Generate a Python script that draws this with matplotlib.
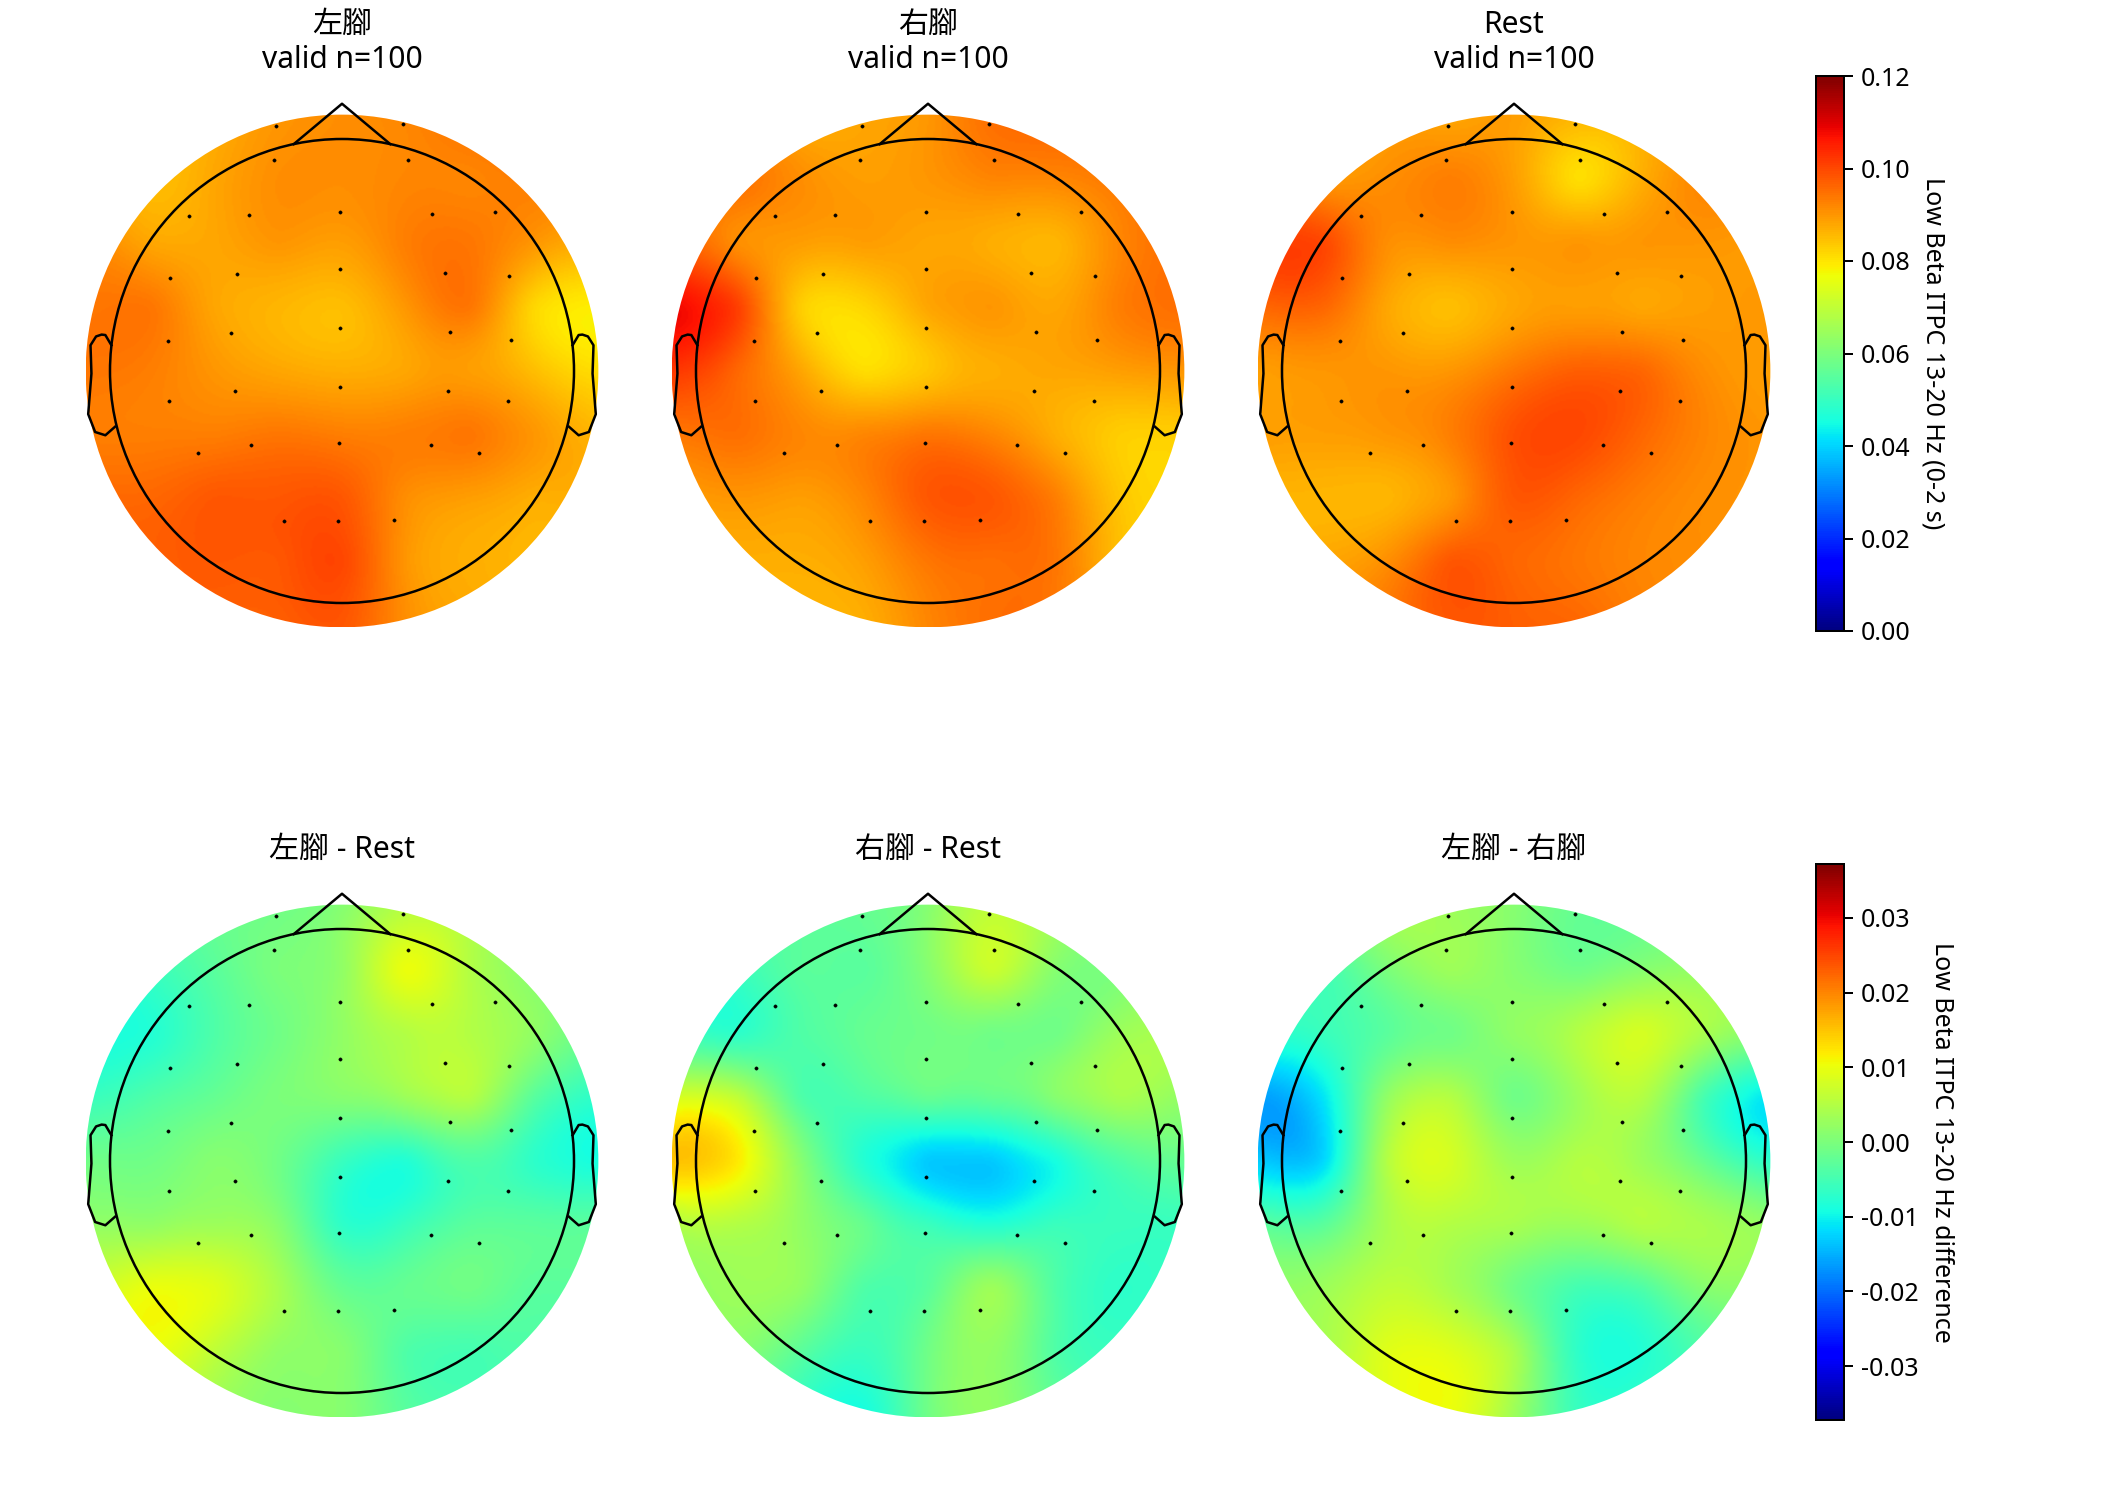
import numpy as np
import matplotlib
matplotlib.use("Agg")
import matplotlib.pyplot as plt
from matplotlib.patches import Circle
from matplotlib.cm import ScalarMappable
from matplotlib.colors import Normalize

plt.rcParams['font.family'] = ['Noto Sans', 'Noto Sans CJK TC', 'DejaVu Sans']
plt.rcParams['axes.unicode_minus'] = False

# Electrode locations on the unit head circle
SENSOR_X = [-.284, .264, -.294, .284, -.660, -.401, -.008, .390, .658,
            -.741, -.454, -.008, .446, .719, -.752, -.478, -.008, .466, .727,
            -.746, -.462, -.010, .458, .717, -.621, -.393, -.011, .383, .591,
            -.252, -.016, .222]
SENSOR_Y = [1.056, 1.065, .908, .911, .669, .671, .684, .678, .684,
            .401, .419, .440, .422, .409, .130, .165, .186, .168, .133,
            -.129, -.085, -.071, -.085, -.129, -.352, -.317, -.310, -.317, -.352,
            -.645, -.646, -.642]

# Scalp field sampled on a regular lattice, rows from front to back
ROW_Y = [1.1, .825, .55, .275, 0, -.275, -.55, -.825, -1.1]
ROW_X = [[-.55, -.275, 0, .275, .55],
         [-.825, -.55, -.275, 0, .275, .55, .825],
         [-1.1, -.825, -.55, -.275, 0, .275, .55, .825, 1.1],
         [-1.1, -.825, -.55, -.275, 0, .275, .55, .825, 1.1],
         [-1.1, -.825, -.55, -.275, 0, .275, .55, .825, 1.1],
         [-1.1, -.825, -.55, -.275, 0, .275, .55, .825, 1.1],
         [-1.1, -.825, -.55, -.275, 0, .275, .55, .825, 1.1],
         [-.825, -.55, -.275, 0, .275, .55, .825],
         [-.55, -.275, 0, .275, .55]]

LEFT_FOOT = [[.087, .090, .091, .092, .095],
             [.085, .088, .091, .091, .092, .092, .093],
             [.092, .088, .088, .090, .089, .093, .094, .090, .087],
             [.094, .094, .088, .086, .085, .090, .094, .082, .079],
             [.094, .093, .090, .088, .087, .088, .089, .085, .081],
             [.093, .093, .093, .094, .093, .093, .094, .090, .086],
             [.096, .096, .098, .098, .098, .091, .089, .087, .087],
             [.097, .098, .098, .100, .090, .087, .086],
             [.097, .097, .098, .091, .088]]
RIGHT_FOOT = [[.087, .088, .090, .095, .096],
              [.095, .091, .089, .090, .092, .092, .094],
              [.097, .091, .089, .089, .088, .087, .086, .092, .095],
              [.108, .101, .083, .082, .088, .090, .088, .093, .095],
              [.102, .096, .088, .081, .084, .087, .088, .089, .090],
              [.094, .095, .092, .092, .094, .092, .087, .083, .083],
              [.089, .090, .089, .092, .098, .098, .093, .084, .082],
              [.087, .087, .089, .094, .095, .094, .085],
              [.086, .087, .092, .095, .094]]
REST = [[.089, .088, .089, .086, .087],
        [.090, .091, .093, .089, .081, .087, .092],
        [.101, .100, .091, .091, .090, .090, .090, .090, .089],
        [.096, .096, .088, .085, .088, .089, .088, .089, .090],
        [.089, .090, .090, .090, .094, .097, .096, .091, .089],
        [.089, .089, .090, .093, .099, .100, .096, .092, .090],
        [.086, .086, .086, .090, .098, .096, .093, .091, .090],
        [.088, .091, .098, .096, .094, .092, .091],
        [.094, .098, .097, .096, .093]]
LEFT_MINUS_REST = [[-.002, -.001, .001, .005, .004],
                   [-.006, -.003, 0, .002, .010, .005, .001],
                   [-.009, -.008, -.004, -.001, .002, .005, .005, .002, -.002],
                   [-.006, -.004, -.002, 0, .001, .003, .005, -.003, -.007],
                   [-.001, -.001, .001, -.001, -.006, -.008, -.004, -.007, -.009],
                   [.002, .002, .003, .001, -.007, -.006, -.003, -.003, -.003],
                   [.007, .010, .009, .004, -.002, -.002, -.001, -.003, -.003],
                   [.010, .006, .002, .001, -.004, -.005, -.004],
                   [.003, .001, .001, -.003, -.004]]
RIGHT_MINUS_REST = [[-.003, -.002, .001, .006, .003],
                    [-.006, -.003, -.003, .001, .007, .001, 0],
                    [-.006, -.007, -.004, -.002, -.001, -.001, -.001, .003, .004],
                    [.008, .006, -.004, -.004, -.002, -.002, .001, .004, .002],
                    [.015, .012, .001, -.008, -.013, -.013, -.009, -.004, -.002],
                    [.005, .005, .002, -.002, -.006, -.008, -.006, -.006, -.006],
                    [.002, .003, .002, -.004, -.003, .003, -.004, -.007, -.006],
                    [.001, -.003, -.006, -.001, .002, -.004, -.006],
                    [-.007, -.009, -.001, .002, -.002]]
LEFT_MINUS_RIGHT = [[.004, .003, .001, -.002, -.002],
                    [-.005, 0, .003, .001, -.001, .001, .002],
                    [-.007, -.006, -.003, -.001, .002, .005, .008, .004, .001],
                    [-.016, -.011, .002, .005, -.001, .003, .005, -.005, -.011],
                    [-.013, -.012, .005, .008, .003, .005, .003, -.002, -.007],
                    [-.003, -.003, .004, .005, .004, .003, .005, .004, .002],
                    [.002, .003, .006, .004, -.001, -.005, -.004, .001, .001],
                    [.004, .009, .009, .004, -.007, -.008, -.004],
                    [.009, .010, .003, -.006, -.006]]

CONDITION_TITLES = ['左腳\nvalid n=100', '右腳\nvalid n=100', 'Rest\nvalid n=100']
CONTRAST_TITLES = ['左腳 - Rest', '右腳 - Rest', '左腳 - 右腳']
CONDITION_MAPS = [LEFT_FOOT, RIGHT_FOOT, REST]
CONTRAST_MAPS = [LEFT_MINUS_REST, RIGHT_MINUS_REST, LEFT_MINUS_RIGHT]
CONDITION_LIMITS = (0.0, 0.12)
CONTRAST_LIMITS = (-0.0372, 0.0372)
CONDITION_TICKS = [0, .02, .04, .06, .08, .10, .12]
CONTRAST_TICKS = [-.03, -.02, -.01, 0, .01, .02, .03]

# Head outline pieces
NOSE_X = [-.208, 0, .208]
NOSE_Y = [.978, 1.152, .978]
EAR_X = [.994, 1.020, 1.036, 1.060, 1.084, 1.080, 1.094, 1.064, 1.020, .978]
EAR_Y = [.111, .155, .157, .149, .111, -.011, -.186, -.263, -.277, -.240]

W, H = 2124, 1512
DPI = 180
HEAD_PX = 232
COLUMN_X = [342, 928, 1514]
ROW_CENTER_Y = [371, 1161]
AX_SPAN = 1.2
FIELD_RADIUS = 1.105


def tps_kernel(r):
    with np.errstate(divide='ignore', invalid='ignore'):
        k = r ** 2 * np.log(r)
    return np.nan_to_num(k)


def interpolate_field(rows, xq, yq):
    # Thin-plate spline through the lattice samples
    nx = np.concatenate([np.asarray(xs, float) for xs in ROW_X])
    ny = np.concatenate([np.full(len(xs), y, float) for xs, y in zip(ROW_X, ROW_Y)])
    vals = np.concatenate([np.asarray(r, float) for r in rows])
    n = nx.size
    dist = np.hypot(nx[:, None] - nx[None, :], ny[:, None] - ny[None, :])
    poly = np.column_stack([np.ones(n), nx, ny])
    system = np.block([[tps_kernel(dist), poly], [poly.T, np.zeros((3, 3))]])
    coef = np.linalg.solve(system, np.concatenate([vals, np.zeros(3)]))
    qd = np.hypot(xq[..., None] - nx, yq[..., None] - ny)
    return (tps_kernel(qd) @ coef[:n]) + coef[n] + coef[n + 1] * xq + coef[n + 2] * yq


def draw_topomap(fig, cx, cy, rows, limits, title):
    half = AX_SPAN * HEAD_PX
    ax = fig.add_axes([(cx - half) / W, 1 - (cy + half) / H, 2 * half / W, 2 * half / H])
    xs = np.linspace(-FIELD_RADIUS, FIELD_RADIUS, 320)
    xq, yq = np.meshgrid(xs, xs)
    field = interpolate_field(rows, xq, yq)
    im = ax.imshow(field, origin='lower', cmap='jet', vmin=limits[0], vmax=limits[1],
                   extent=[-FIELD_RADIUS, FIELD_RADIUS, -FIELD_RADIUS, FIELD_RADIUS],
                   interpolation='bilinear', zorder=1)
    im.set_clip_path(Circle((0, 0), FIELD_RADIUS, transform=ax.transData))
    ax.add_patch(Circle((0, 0), 1.0, fill=False, ec='k', lw=1.0, zorder=3))
    ax.plot(NOSE_X, NOSE_Y, color='k', lw=1.0, zorder=3)
    ax.plot(EAR_X, EAR_Y, color='k', lw=1.0, zorder=3)
    ax.plot(-np.asarray(EAR_X), EAR_Y, color='k', lw=1.0, zorder=3)
    ax.plot(SENSOR_X, SENSOR_Y, ls='none', marker='o', ms=1.3, mfc='k', mec='k',
            mew=0.2, zorder=4)
    ax.set_xlim(-AX_SPAN, AX_SPAN)
    ax.set_ylim(-AX_SPAN, AX_SPAN)
    ax.set_aspect('equal')
    ax.axis('off')
    ax.set_title(title, fontsize=12, pad=9.8, linespacing=1.22)


def draw_colorbar(fig, top, bottom, limits, ticks, label, labelpad):
    left, right = 1816, 1843.5
    cax = fig.add_axes([left / W, 1 - bottom / H, (right - left) / W, (bottom - top) / H])
    sm = ScalarMappable(norm=Normalize(*limits), cmap='jet')
    cb = fig.colorbar(sm, cax=cax)
    cb.set_ticks(ticks)
    cb.set_ticklabels([f'{t:.2f}' for t in ticks])
    cb.ax.tick_params(labelsize=10)
    cb.set_label(label, rotation=270, fontsize=10, labelpad=labelpad)


fig = plt.figure(figsize=(W / DPI, H / DPI), dpi=DPI, facecolor='white')

for cx, rows, title in zip(COLUMN_X, CONDITION_MAPS, CONDITION_TITLES):
    draw_topomap(fig, cx, ROW_CENTER_Y[0], rows, CONDITION_LIMITS, title)
for cx, rows, title in zip(COLUMN_X, CONTRAST_MAPS, CONTRAST_TITLES):
    draw_topomap(fig, cx, ROW_CENTER_Y[1], rows, CONTRAST_LIMITS, title)

draw_colorbar(fig, 76, 631, CONDITION_LIMITS, CONDITION_TICKS,
              'Low Beta ITPC 13-20 Hz (0-2 s)', 14)
draw_colorbar(fig, 864, 1420, CONTRAST_LIMITS, CONTRAST_TICKS,
              'Low Beta ITPC 13-20 Hz difference', 14)

fig.savefig('out.png', dpi=DPI, facecolor='white')
